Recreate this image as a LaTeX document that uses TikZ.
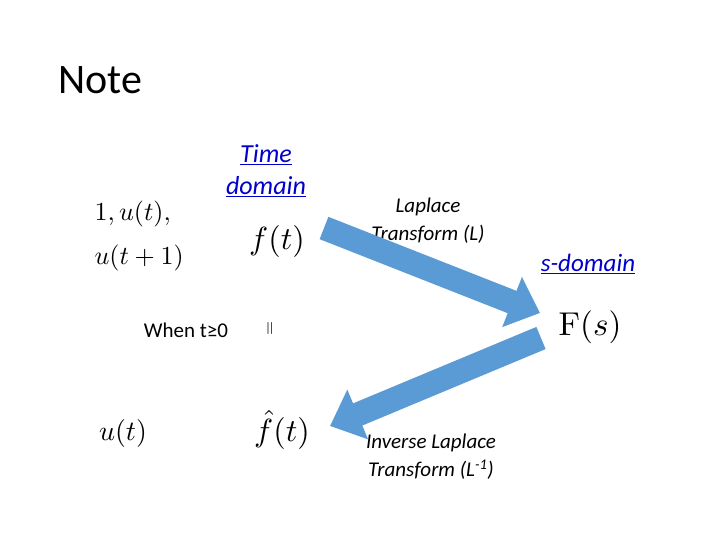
\documentclass[tikz,border=0pt]{standalone}
\usepackage{fontspec}
\setsansfont{Carlito}
\usetikzlibrary{arrows.meta}
\definecolor{abl}{HTML}{5B9BD5}
\definecolor{lnk}{HTML}{0000CC}
\begin{document}
\begin{tikzpicture}[x=1pt,y=-1pt,
  txt/.style={font=\sffamily\fontsize{#1}{#1}\selectfont,align=center,inner sep=0},
  mth/.style={scale=#1,transform shape,inner sep=0},
  bigarrow/.style={abl,line width=24pt,-{Triangle[length=30pt,width=52pt]}}]
\useasboundingbox (0,0) rectangle (720,540);
\node[txt=42,anchor=west] (note) at (58,80) {Note};
\node[txt=26,text=lnk] (td) at (266,171) {\itshape\underline{Time}\\[6pt]\itshape\underline{domain}};
\node[txt=21,text=black] (lt) at (428,221) {\itshape Laplace\\[7pt]\itshape Transform (L)};
\node[txt=25,text=lnk] (sd) at (588,264) {\itshape\underline{s-domain}};
\node[mth=2.6,anchor=west] (l1) at (94,214) {$1,u(t),$};
\node[mth=2.6,anchor=west] (l2) at (94,258) {$u(t+1)$};
\node[mth=3.2] (ft) at (277,241) {$f(t)$};
\node[txt=21] (when) at (186,330) {When t≥0};
\node[mth=1.8,rotate=90] (eq) at (271,328) {$=$};
\node[mth=3.3] (Fs) at (590,327) {$\mathrm{F}(s)$};
\node[mth=2.8] (ut) at (123,433) {$u(t)$};
\node[mth=3.2] (fh) at (282,430) {$\hat f(t)$};
\node[txt=21] (ilt) at (431,457) {\itshape Inverse Laplace\\[7pt]\itshape Transform (L\textsuperscript{-1})};
\coordinate (a1s) at (324,228);
\coordinate (a1e) at (540,313);
\coordinate (a2s) at (541,338);
\coordinate (a2e) at (330,426);
\draw[bigarrow] (a1s) -- (a1e);
\draw[bigarrow] (a2s) -- (a2e);
\end{tikzpicture}
\end{document}
